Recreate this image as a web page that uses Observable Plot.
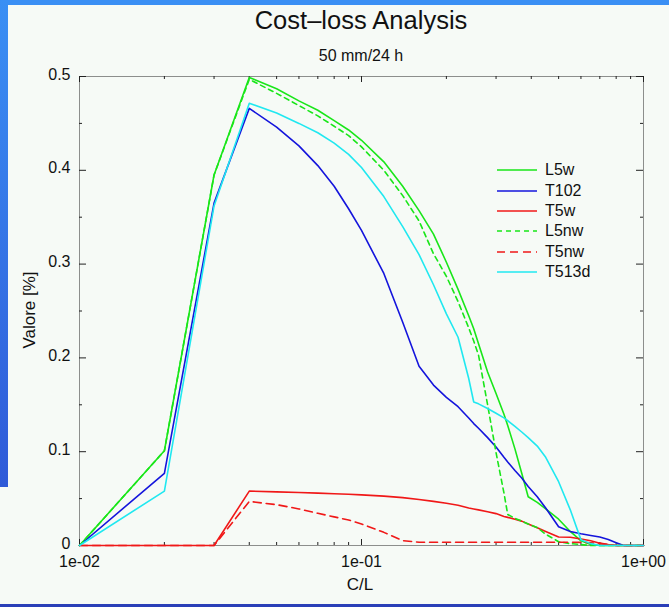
<!DOCTYPE html>
<html><head><meta charset="utf-8">
<script src="https://cdn.jsdelivr.net/npm/d3@7"></script>
<script src="https://cdn.jsdelivr.net/npm/@observablehq/plot@0.6"></script>
<style>
html,body{margin:0;padding:0;background:#f6faf6;width:669px;height:607px;overflow:hidden;font-family:"Liberation Sans",Arial,sans-serif;color:#111;}
#topbar{position:absolute;left:0;top:0;width:669px;height:5px;background:#3a8ff4;z-index:5;}
#leftbar{position:absolute;left:0;top:0;width:8px;height:487px;background:linear-gradient(#3a8ff4,#2f5ad8);z-index:5;}
#bottombar{position:absolute;left:0;top:604px;width:669px;height:3px;background:#2a3fb8;z-index:5;}
#title{position:absolute;left:79px;width:564px;top:6px;text-align:center;font-size:25.5px;line-height:28px;}
#subtitle{position:absolute;left:79px;width:564px;top:47px;text-align:center;font-size:16px;line-height:18px;}
#chart{position:absolute;left:0;top:62px;}
#ylabel{position:absolute;left:30px;top:310px;transform:translate(-50%,-50%) rotate(-90deg);font-size:17px;white-space:nowrap;}
#xlabel{position:absolute;left:360px;top:585px;transform:translate(-50%,-50%);font-size:17px;}
#legend{position:absolute;left:497px;top:160px;}
.row{height:20.4px;display:flex;align-items:center;}
.row svg{width:48px;height:20px;flex:none;}
.row span{font-size:16px;line-height:20px;}
</style></head>
<body>
<div id="topbar"></div><div id="leftbar"></div><div id="bottombar"></div>
<div id="title">Cost–loss Analysis</div>
<div id="subtitle">50 mm/24 h</div>
<div id="chart"></div>
<div id="ylabel">Valore [%]</div>
<div id="xlabel">C/L</div>
<div id="legend"></div>
<script>
const cl = [0.01,0.02,0.03,0.04,0.05,0.06,0.07,0.08,0.09,0.10,0.12,0.14,0.16,0.18,0.20,0.22,0.24,0.25,0.26,0.28,0.30,0.32,0.33,0.35,0.37,0.39,0.42,0.45,0.50,0.55,0.60,0.65,0.70,0.75,0.80,0.85,0.90,0.95,1.00];
const L5w   = [0,0.101,0.395,0.499,0.487,0.474,0.464,0.453,0.443,0.432,0.409,0.383,0.357,0.332,0.302,0.273,0.245,0.231,0.215,0.185,0.162,0.140,0.128,0.103,0.077,0.052,0.046,0.039,0.028,0.015,0.005,0.001,0,0,0,0,0,0,0];
const T102  = [0,0.077,0.365,0.466,0.446,0.426,0.405,0.383,0.359,0.336,0.290,0.238,0.191,0.171,0.158,0.148,0.136,0.130,0.125,0.115,0.105,0.094,0.089,0.080,0.072,0.063,0.052,0.040,0.020,0.015,0.0125,0.0107,0.009,0.0065,0.003,0,0,0,0];
const T5w   = [0,0,0,0.058,0.0572,0.0565,0.0558,0.0552,0.0546,0.054,0.0526,0.051,0.049,0.047,0.045,0.043,0.040,0.039,0.038,0.036,0.034,0.031,0.030,0.028,0.026,0.023,0.019,0.015,0.009,0.0088,0.007,0.005,0.0025,0.001,0,0,0,0,0];
const L5nw  = [0,0.101,0.395,0.497,0.482,0.469,0.458,0.447,0.437,0.425,0.400,0.373,0.346,0.311,0.287,0.260,0.232,0.218,0.203,0.150,0.099,0.056,0.033,0.029,0.026,0.023,0.019,0.012,0.004,0.002,0.001,0,0,0,0,0,0,0,0];
const T5nw  = [0,0,0,0.047,0.0435,0.039,0.0343,0.0305,0.0272,0.023,0.014,0.0052,0.0035,0.0035,0.0035,0.0035,0.0035,0.0035,0.0035,0.0035,0.0035,0.0035,0.0035,0.0035,0.0035,0.0035,0.0035,0.0035,0.0035,0.0035,0.0033,0.003,0.002,0.001,0,0,0,0,0];
const T513d = [0,0.058,0.362,0.4715,0.461,0.450,0.440,0.429,0.417,0.403,0.372,0.340,0.310,0.278,0.247,0.222,0.178,0.153,0.151,0.146,0.141,0.136,0.133,0.127,0.121,0.115,0.106,0.094,0.068,0.038,0.006,0.002,0,0,0,0,0,0,0];

const seriesNames = ["L5w","T102","T5w","L5nw","T5nw","T513d"];
const seriesValues = [L5w,T102,T5w,L5nw,T5nw,T513d];
const seriesColors = ["#19e619","#1414dc","#f01818","#19e619","#f01818","#20e8f0"];
const seriesDash = [null,null,null,"5,4","8,5",null];

const xMajor = [0.01,0.1,1];
const xMajorLabels = ["1e-02","1e-01","1e+00"];
const xMinor = [0.02,0.03,0.04,0.05,0.06,0.07,0.08,0.09,0.2,0.3,0.4,0.5,0.6,0.7,0.8,0.9];
const yMajor = [0,0.1,0.2,0.3,0.4,0.5];
const yMajorLabels = ["0","0.1","0.2","0.3","0.4","0.5"];
const yMinor = [0.05,0.15,0.25,0.35,0.45];

const W = 669, H = 545, mL = 79, mR = 26, mT = 14, mB = 62;
const fw = W - mL - mR, fh = H - mT - mB;

const lineMarks = seriesNames.map((name, i) => Plot.line(
  cl.map((c, j) => ({cl: c, v: seriesValues[i][j]})),
  {x: "cl", y: "v", stroke: seriesColors[i], strokeWidth: 1.6, strokeDasharray: seriesDash[i] ?? undefined}
));

const xLabelOf = d => { const k = xMajor.findIndex(t => Math.abs(t - d) < 1e-9); return k >= 0 ? xMajorLabels[k] : ""; };
const yLabelOf = d => { const k = yMajor.findIndex(t => Math.abs(t - d) < 1e-9); return k >= 0 ? yMajorLabels[k] : ""; };

const tickStyle = {stroke: "#222", strokeWidth: 1};
const chart = Plot.plot({
  width: W, height: H,
  marginLeft: mL, marginRight: mR, marginTop: mT, marginBottom: mB,
  style: {fontSize: "16px", fontFamily: "Liberation Sans, Arial, sans-serif", background: "transparent", color: "#111"},
  x: {type: "log", domain: [0.01, 1], axis: null},
  y: {domain: [0, 0.5], axis: null},
  marks: [
    Plot.frame({stroke: "#222", strokeDasharray: "1,1"}),
    Plot.tickX(xMajor, {x: d => d, insetTop: fh - 6, ...tickStyle}),
    Plot.tickX(xMajor, {x: d => d, insetBottom: fh - 6, ...tickStyle}),
    Plot.tickX(xMinor, {x: d => d, insetTop: fh - 3, ...tickStyle}),
    Plot.tickX(xMinor, {x: d => d, insetBottom: fh - 3, ...tickStyle}),
    Plot.tickY(yMajor, {y: d => d, insetRight: fw - 7, ...tickStyle}),
    Plot.tickY(yMajor, {y: d => d, insetLeft: fw - 7, ...tickStyle}),
    Plot.tickY(yMinor, {y: d => d, insetRight: fw - 3, ...tickStyle}),
    Plot.tickY(yMinor, {y: d => d, insetLeft: fw - 3, ...tickStyle}),
    Plot.text(xMajor, {x: d => d, text: xLabelOf, frameAnchor: "bottom", dy: 21, fill: "#111"}),
    Plot.text(yMajor, {y: d => d, text: yLabelOf, frameAnchor: "left", textAnchor: "end", dx: -9, dy: -2, fill: "#111"}),
    ...lineMarks
  ]
});
document.getElementById("chart").appendChild(chart);

const legend = document.getElementById("legend");
seriesNames.forEach((name, i) => {
  const row = document.createElement("div");
  row.className = "row";
  const dash = seriesDash[i] ? ` stroke-dasharray="${seriesDash[i]}"` : "";
  row.innerHTML = `<svg viewBox="0 0 48 20"><line x1="0" x2="40" y1="10" y2="10" stroke="${seriesColors[i]}" stroke-width="1.6"${dash}/></svg><span>${name}</span>`;
  legend.appendChild(row);
});
</script>
</body></html>
